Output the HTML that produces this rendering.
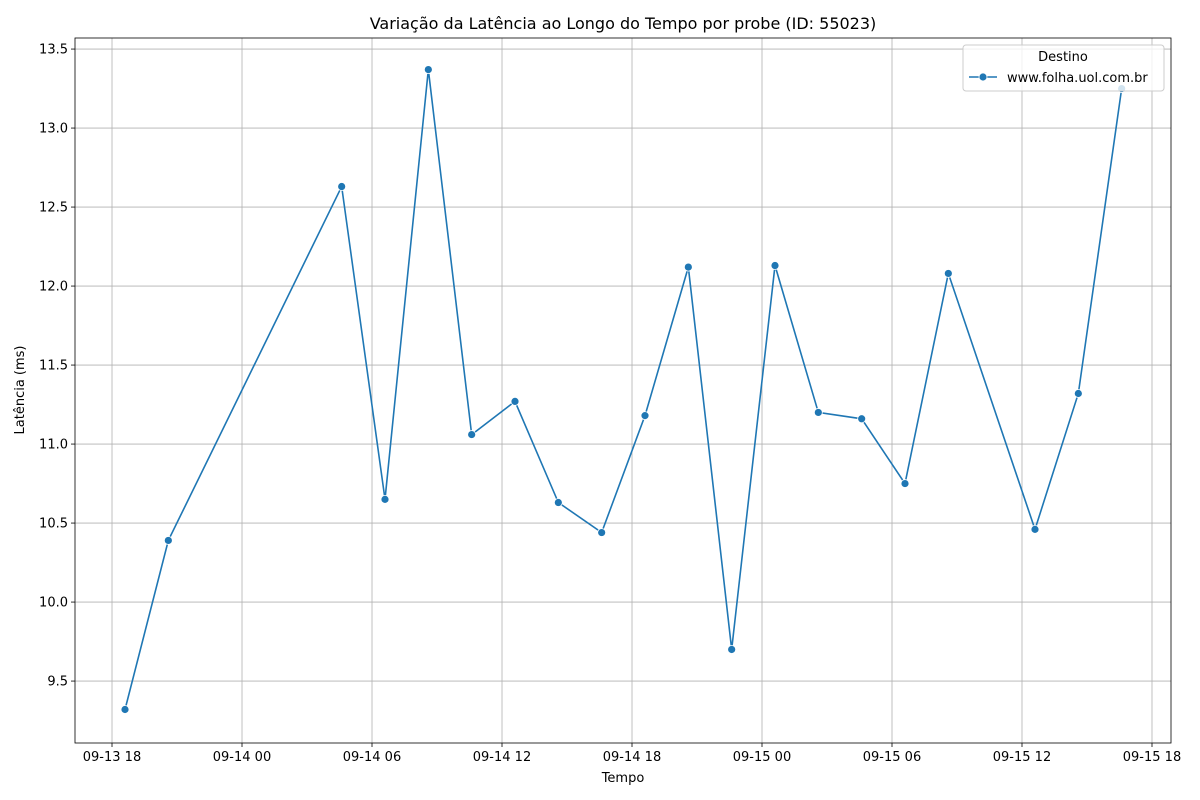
<!DOCTYPE html>
<html><head><meta charset="utf-8"><style>
body{margin:0;background:#fff;}
svg{display:block;font-family:"DejaVu Sans","Liberation Sans",sans-serif;}
</style></head><body>
<svg id="chart" width="1200" height="800"></svg>
<script>
const hoursFromStart = [0.6,2.6,10.6,12.6,14.6,16.6,18.6,20.6,22.6,24.6,26.6,28.6,30.6,32.6,34.6,36.6,38.6,42.6,44.6,46.6];
const latencyMs = [9.32,10.39,12.63,10.65,13.37,11.06,11.27,10.63,10.44,11.18,12.12,9.70,12.13,11.20,11.16,10.75,12.08,10.46,11.32,13.25];
const xTickHours = [0,6,12,18,24,30,36,42,48];
const xTickLabels = ["09-13 18","09-14 00","09-14 06","09-14 12","09-14 18","09-15 00","09-15 06","09-15 12","09-15 18"];
const yTicks = [9.5,10.0,10.5,11.0,11.5,12.0,12.5,13.0,13.5];

const NS="http://www.w3.org/2000/svg";
const svg=document.getElementById('chart');
const L=75,R=1171,T=38,B=743;
const xMin=-1.708,xMax=48.877,yMin=9.108,yMax=13.57;
const xs=h=>L+(h-xMin)/(xMax-xMin)*(R-L);
const ys=v=>B-(v-yMin)/(yMax-yMin)*(B-T);
function mk(tag,attrs,parent){const e=document.createElementNS(NS,tag);for(const k in attrs)e.setAttribute(k,attrs[k]);(parent||svg).appendChild(e);return e;}

const grid=mk('g',{});


xTickHours.forEach((h,i)=>{
  const x=xs(h);
  mk('line',{x1:x,x2:x,y1:T,y2:B,stroke:'#b0b0b0','stroke-width':0.8},grid);
  mk('line',{x1:x,x2:x,y1:B,y2:B+4,stroke:'#000','stroke-width':0.8});
  const t=mk('text',{x:x,y:B+18,'text-anchor':'middle','font-size':13});
  t.textContent=xTickLabels[i];
  
  
});
yTicks.forEach(v=>{
  const y=ys(v);
  mk('line',{x1:L,x2:R,y1:y,y2:y,stroke:'#b0b0b0','stroke-width':0.8},grid);
  mk('line',{x1:L-4,x2:L,y1:y,y2:y,stroke:'#000','stroke-width':0.8});
  const t=mk('text',{x:L-7,y:y+4.5,'text-anchor':'end','font-size':13});
  t.textContent=v.toFixed(1);
  
  
});
const frame=mk('rect',{x:L,y:T,width:R-L,height:B-T,fill:'none',stroke:'#000','stroke-width':0.8});



const pts=hoursFromStart.map((h,i)=>xs(h)+','+ys(latencyMs[i])).join(' ');
const line=mk('polyline',{points:pts,fill:'none',stroke:'#1f77b4','stroke-width':1.6});


hoursFromStart.forEach((h,i)=>{
  const c=mk('circle',{cx:xs(h),cy:ys(latencyMs[i]),r:4,fill:'#1f77b4',stroke:'#fff','stroke-width':0.8});
  
  
});

const title=mk('text',{x:623,y:29,'text-anchor':'middle','font-size':16});
title.textContent='Variação da Latência ao Longo do Tempo por probe (ID: 55023)';


const xt=mk('text',{x:623,y:782,'text-anchor':'middle','font-size':13});
xt.textContent='Tempo';


const yt=mk('text',{x:24,y:390,'text-anchor':'middle','font-size':13,transform:'rotate(-90 24 390)'});
yt.textContent='Latência (ms)';



const lg=mk('g',{});


mk('rect',{x:963,y:45,width:201,height:46,rx:3,fill:'#fff','fill-opacity':0.8,stroke:'#ccc','stroke-width':1},lg);
const lt=mk('text',{x:1063,y:61,'text-anchor':'middle','font-size':13},lg);
lt.textContent='Destino';


mk('line',{x1:969,x2:997,y1:77,y2:77,stroke:'#1f77b4','stroke-width':1.6},lg);
mk('circle',{cx:983,cy:77,r:4,fill:'#1f77b4',stroke:'#fff','stroke-width':0.8},lg);
const le=mk('text',{x:1007,y:82,'font-size':13},lg);
le.textContent='www.folha.uol.com.br';


</script>
</body></html>
